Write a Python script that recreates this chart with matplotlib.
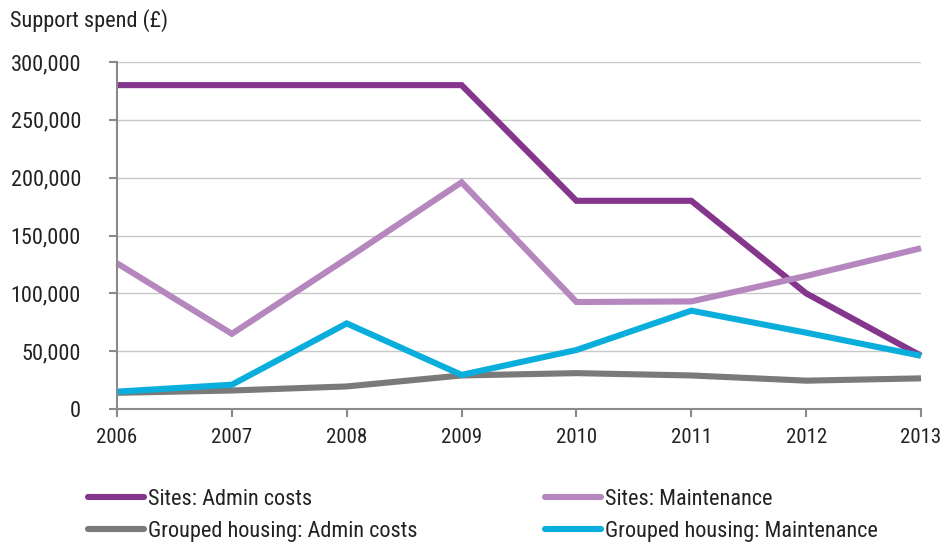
import matplotlib
matplotlib.use("Agg")
import matplotlib.pyplot as plt
from matplotlib import font_manager
from matplotlib.ticker import FuncFormatter, MultipleLocator
from matplotlib.lines import Line2D

years = [2006, 2007, 2008, 2009, 2010, 2011, 2012, 2013]
sites_admin = [280000, 280000, 280000, 280000, 180000, 180000, 100000, 46000]
sites_maint = [126000, 65000, 130000, 196000, 92500, 93000, 115000, 139000]
grouped_admin = [14000, 16000, 19500, 29000, 31000, 29000, 24500, 26500]
grouped_maint = [15000, 21000, 74000, 29500, 51000, 85000, 66000, 46000]
series_names = ["Sites: Admin costs", "Sites: Maintenance",
                "Grouped housing: Admin costs", "Grouped housing: Maintenance"]
colors = ["#84358C", "#B587BE", "#7A7B78", "#0AAEDC"]

avail = {f.name for f in font_manager.fontManager.ttflist}
fam = None
for cand in ["Roboto Condensed", "Liberation Sans Narrow", "Open Sans Condensed", "Noto Sans", "DejaVu Sans"]:
    if cand in avail:
        fam = cand
        break
plt.rcParams['font.family'] = [fam, 'DejaVu Sans']

FS = 16
fig = plt.figure(figsize=(9.41, 5.44), dpi=100)
ax = fig.add_axes([117/941, 1-409/544, (921-117)/941, (409-62)/544])

handles = []
for vals, name, c in zip([sites_admin, sites_maint, grouped_admin, grouped_maint], series_names, colors):
    h, = ax.plot(years, vals, color=c, lw=4.4, solid_capstyle='butt', solid_joinstyle='miter', label=name, clip_on=False)
    handles.append(h)

ax.set_xlim(2006, 2013)
ax.set_ylim(0, 300000)
ax.yaxis.set_major_locator(MultipleLocator(50000))
ax.yaxis.set_major_formatter(FuncFormatter(lambda v, p: f"{int(v):,}"))
ax.set_xticks(years)
ax.set_xticklabels([str(y) for y in years])
ax.grid(axis='y', color='#C8C8C8', lw=1)
ax.set_axisbelow(True)
for s in ['top', 'right']:
    ax.spines[s].set_visible(False)
for s in ['left', 'bottom']:
    ax.spines[s].set_color('#8A8A8A')
    ax.spines[s].set_linewidth(1.5)
ax.tick_params(axis='both', direction='out', length=6, width=1.5, color='#8A8A8A', labelsize=FS, labelcolor='#222222')
ax.tick_params(axis='y', pad=20)
ax.tick_params(axis='x', pad=8, labelsize=15)

fig.text(10/941, 1-21/544, "Support spend (£)", fontsize=FS, color='#222222', va='center', ha='left')

leg_handles = [Line2D([], [], color=c, lw=4.4, solid_capstyle='round') for c in colors]
leg_kw = dict(frameon=False, fontsize=FS, handlelength=2.5, handletextpad=0.2, labelspacing=0.5,
              borderaxespad=0, borderpad=0, labelcolor='#222222')
l1 = fig.legend([leg_handles[0], leg_handles[2]], [series_names[0], series_names[2]],
                loc='upper left', bbox_to_anchor=(88/941, 1-489/544), **leg_kw)
l2 = fig.legend([leg_handles[1], leg_handles[3]], [series_names[1], series_names[3]],
                loc='upper left', bbox_to_anchor=(545/941, 1-489/544), **leg_kw)

fig.savefig("out.png", dpi=100)
